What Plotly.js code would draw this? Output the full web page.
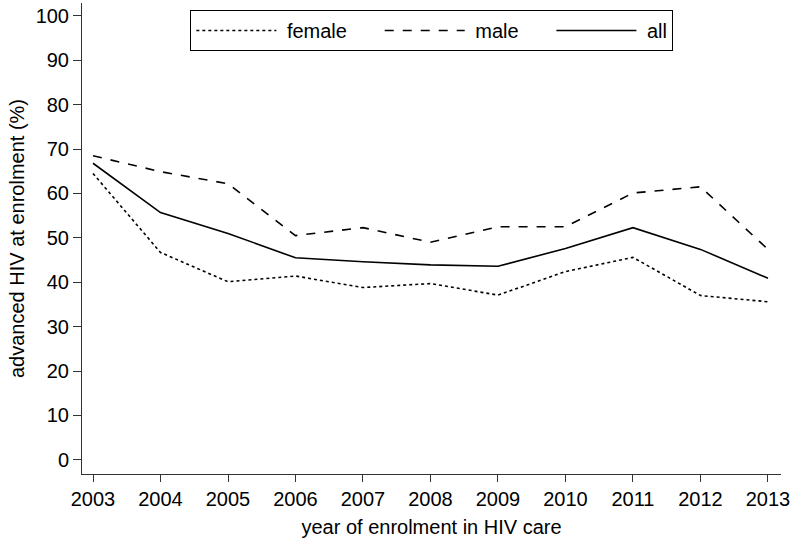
<!DOCTYPE html>
<html>
<head>
<meta charset="utf-8">
<script src="https://cdn.plot.ly/plotly-3.0.1.min.js"></script>
<style>html,body{margin:0;padding:0;background:#fff;}#chart{width:793px;height:544px;}</style>
</head>
<body>
<div id="chart"></div>
<script>
var years = [2003, 2004, 2005, 2006, 2007, 2008, 2009, 2010, 2011, 2012, 2013];
var female = [64.5, 46.7, 40.1, 41.4, 38.8, 39.7, 37.1, 42.4, 45.6, 37.0, 35.6];
var male = [68.5, 64.9, 62.2, 50.5, 52.3, 49.0, 52.5, 52.5, 60.1, 61.5, 47.4];
var all = [66.8, 55.7, 51.0, 45.5, 44.6, 43.9, 43.6, 47.6, 52.3, 47.4, 40.9];
var yTicks = [0, 10, 20, 30, 40, 50, 60, 70, 80, 90, 100];
var seriesNames = ['female', 'male', 'all'];

var font = {family: 'Liberation Sans, Arial, sans-serif', size: 20, color: '#000'};
var lead = '\u00a0';
var pad = '\u00a0\u00a0\u00a0\u00a0\u00a0';

var traces = [
  {x: years, y: female, name: lead + seriesNames[0] + pad, mode: 'lines', line: {color: '#000', width: 1.6, dash: 'dot'}},
  {x: years, y: male, name: lead + seriesNames[1] + pad, mode: 'lines', line: {color: '#000', width: 1.6, dash: 'dash'}},
  {x: years, y: all, name: lead + seriesNames[2], mode: 'lines', line: {color: '#000', width: 1.6}}
];

var layout = {
  width: 793, height: 544,
  margin: {l: 82, r: 12, t: 3, b: 70},
  paper_bgcolor: '#fff', plot_bgcolor: '#fff',
  font: font,
  showlegend: true,
  legend: {
    orientation: 'h', x: 0.155, xanchor: 'left', y: 0.985, yanchor: 'top',
    bordercolor: '#000', borderwidth: 1, bgcolor: '#fff',
    font: font, itemwidth: 80, traceorder: 'normal'
  },
  xaxis: {
    range: [2002.837, 2013.193], tickmode: 'array', tickvals: years, ticktext: years.map(String),
    showgrid: false, zeroline: false, showline: true, linecolor: '#333', linewidth: 1,
    ticks: 'outside', ticklen: 7, tickcolor: '#333', tickfont: font, ticklabeloverflow: 'allow',
    title: {text: 'year of enrolment in HIV care', font: font, standoff: 10}
  },
  yaxis: {
    range: [-3.2, 102.9], tickmode: 'array', tickvals: yTicks, ticktext: yTicks.map(String),
    showgrid: false, zeroline: false, showline: true, linecolor: '#333', linewidth: 1,
    ticks: 'outside', ticklen: 8, tickcolor: '#333', tickfont: font,
    title: {text: 'advanced HIV at enrolment (%)', font: font, standoff: 5}
  }
};

Plotly.newPlot('chart', traces, layout, {displayModeBar: false, staticPlot: true});
</script>
</body>
</html>
